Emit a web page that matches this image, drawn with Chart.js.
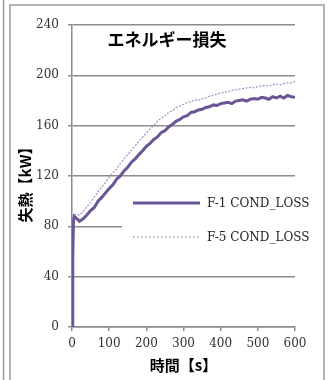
<!DOCTYPE html>
<html><head><meta charset="utf-8">
<script src="https://cdn.jsdelivr.net/npm/chart.js@4"></script>
<style>html,body{margin:0;padding:0;background:#fff;}canvas{display:block;}</style>
</head><body>
<canvas id="c" width="331" height="380"></canvas>
<script>
const chartTitle = "エネルギー損失";
const xTitle = "時間【s】";
const yTitle = "失熱【kW】";
const seriesNames = ["F-1 COND_LOSS", "F-5 COND_LOSS"];
const times = [0,2,4,6,10,20,30,40,50,60,70,80,90,100,110,120,130,140,150,160,170,180,190,200,210,220,230,240,250,260,270,280,290,300,310,320,330,340,350,360,370,380,390,400,410,420,430,440,450,460,470,480,490,500,510,520,530,540,550,560,570,580,590,600];
const f1Values = [0,55,84,88,87,84,86,89,92.5,95,100,103,106.5,110,113,117.5,120,124,127,131,133.5,137,140,143.5,146,149,151,154.5,156,159,161,163.5,165,167,168,170.5,171,172.5,173,174.5,175,176.5,176,177.5,178,178.5,177.5,179.5,180,180.5,179.5,181,181.5,181,182.5,182,181,183,182,183.5,182,184,183,182.5];
const f5Values = [0,65,87,89,89.5,89,92,95.5,99,103,107.5,111,115,119,122.5,126,130,133.5,137,140.5,144,147.5,151,154,157.5,160,163.5,166,168,170.5,172,174.5,175.5,177,178.5,179,180.5,180,181.5,182,183.5,184,185,186,186.5,187,188,188.5,189,189.5,190,190.5,190,191,191.5,192,191.5,192.5,193,192.5,193.5,194,194,195];
const xTicks = [0,100,200,300,400,500,600];
const yTicks = [0,40,80,120,160,200,240];

const colF1 = "#6a5597";
const colF5 = "#a597cc";
const gridCol = "#8c8c8c";

const framePlugin = {
  id: "frame",
  beforeDraw(chart) {
    const ctx = chart.ctx;
    ctx.save();
    ctx.fillStyle = "#fff";
    ctx.fillRect(0, 0, chart.width, chart.height);
    ctx.strokeStyle = "#9a9a9a";
    ctx.lineWidth = 1.5;
    ctx.beginPath();
    ctx.moveTo(3.5, 0); ctx.lineTo(3.5, 380);
    ctx.moveTo(10, 381); ctx.lineTo(10, 5); ctx.lineTo(324, 5); ctx.lineTo(324, 381);
    ctx.stroke();
    ctx.restore();
  },
  afterDraw(chart) {
    const ctx = chart.ctx;
    const a = chart.chartArea;
    ctx.save();
    // legend box
    ctx.fillStyle = "#fff";
    ctx.fillRect(122, 186, 200, 68);
    const items = [
      {y: 203, color: colF1, width: 3, dash: []},
      {y: 237, color: colF5, width: 1.5, dash: [1.5, 2.5]}
    ];
    items.forEach((it, i) => {
      ctx.strokeStyle = it.color;
      ctx.lineWidth = it.width;
      ctx.setLineDash(it.dash);
      ctx.beginPath();
      ctx.moveTo(133, it.y); ctx.lineTo(200, it.y);
      ctx.stroke();
      ctx.setLineDash([]);
      ctx.fillStyle = "#222";
      ctx.font = "12px 'DejaVu Serif'";
      ctx.textAlign = "left";
      ctx.textBaseline = "middle";
      ctx.fillText(seriesNames[i], 207, it.y + 1);
    });
    // title
    ctx.fillStyle = "#000";
    ctx.font = "bold 17px 'Noto Sans CJK JP'";
    ctx.textAlign = "center";
    ctx.textBaseline = "middle";
    ctx.fillText(chartTitle, 167, 40);
    // axis titles
    ctx.font = "bold 15px 'Noto Sans CJK JP'";
    ctx.fillText(xTitle, (a.left + a.right) / 2, 365);
    ctx.translate(25, 181);
    ctx.rotate(-Math.PI / 2);
    ctx.fillText(yTitle, 0, 0);
    ctx.restore();
  }
};

new Chart(document.getElementById("c"), {
  type: "line",
  data: {
    datasets: [
      {label: seriesNames[0], data: times.map((t, i) => ({x: t, y: f1Values[i]})),
       borderColor: colF1, borderWidth: 3, pointRadius: 0, tension: 0, fill: false},
      {label: seriesNames[1], data: times.map((t, i) => ({x: t, y: f5Values[i]})),
       borderColor: colF5, borderWidth: 1.3, borderDash: [2, 1.5], pointRadius: 0, tension: 0, fill: false}
    ]
  },
  options: {
    responsive: false,
    animation: false,
    devicePixelRatio: 1,
    layout: {padding: {left: 32, right: 36, top: 25, bottom: 23}},
    plugins: {legend: {display: false}, title: {display: false}, tooltip: {enabled: false}},
    scales: {
      x: {
        type: "linear", min: 0, max: 600,
        afterBuildTicks(s) { s.ticks = xTicks.map(v => ({value: v})); },
        afterFit(s) { s.height = 30; },
        grid: {drawOnChartArea: false, drawTicks: true, tickLength: 4, color: gridCol, lineWidth: 1.5},
        border: {display: true, color: gridCol, width: 1.5},
        ticks: {color: "#333", font: {family: "'DejaVu Serif'", size: 12}, padding: 6, maxRotation: 0}
      },
      y: {
        type: "linear", min: 0, max: 240,
        afterBuildTicks(s) { s.ticks = yTicks.map(v => ({value: v})); },
        afterFit(s) { s.width = 40; },
        grid: {drawOnChartArea: true, drawTicks: true, tickLength: 4, color: gridCol, lineWidth: 1.5},
        border: {display: true, color: gridCol, width: 1.5},
        ticks: {color: "#333", font: {family: "'DejaVu Serif'", size: 12}, padding: 9}
      }
    }
  },
  plugins: [framePlugin]
});
</script>
</body></html>
